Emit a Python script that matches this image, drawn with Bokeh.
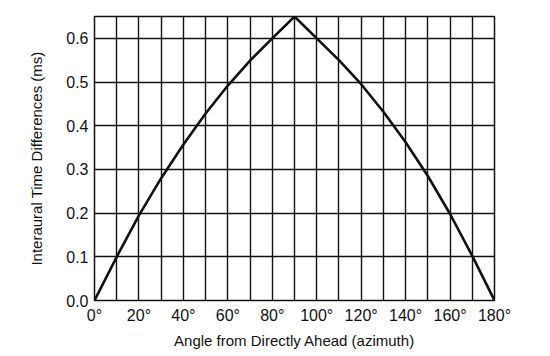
from bokeh.plotting import figure
from bokeh.models import FixedTicker, Range1d
from bokeh.embed import file_html
from bokeh.resources import INLINE

# Data
angles = [0, 10, 20, 30, 40, 50, 60, 70, 80, 90, 100, 110, 120, 130, 140, 150, 160, 170, 180]
itd_ms = [0.0, 0.10, 0.195, 0.28, 0.357, 0.428, 0.492, 0.549, 0.60, 0.65,
          0.60, 0.55, 0.495, 0.432, 0.362, 0.285, 0.198, 0.102, 0.0]

x_ticks = [0, 20, 40, 60, 80, 100, 120, 140, 160, 180]
x_tick_labels = ["0°", "20°", "40°", "60°", "80°", "100°", "120°", "140°", "160°", "180°"]
y_ticks = [0.0, 0.1, 0.2, 0.3, 0.4, 0.5, 0.6]
y_tick_labels = ["0.0", "0.1", "0.2", "0.3", "0.4", "0.5", "0.6"]
x_grid = list(range(0, 181, 10))

FONT = "Liberation Sans"

p = figure(width=542, height=352, output_backend="svg", toolbar_location=None,
           x_range=Range1d(0, 180), y_range=Range1d(0, 0.65),
           min_border_left=94, min_border_right=48, min_border_top=16, min_border_bottom=52)

p.outline_line_color = "#111111"
p.outline_line_width = 1.5
p.background_fill_color = "white"

p.xaxis.ticker = FixedTicker(ticks=x_ticks)
p.xaxis.major_label_overrides = {t: l for t, l in zip(x_ticks, x_tick_labels)}
p.yaxis.ticker = FixedTicker(ticks=y_ticks)
p.yaxis.major_label_overrides = {t: l for t, l in zip(y_ticks, y_tick_labels)}

p.xgrid.ticker = FixedTicker(ticks=x_grid)
p.ygrid.ticker = FixedTicker(ticks=y_ticks)
for g in (p.xgrid, p.ygrid):
    g.grid_line_color = "#111111"
    g.grid_line_width = 1.4
    g.grid_line_alpha = 1.0

for ax in (p.xaxis, p.yaxis):
    ax.axis_line_color = None
    ax.major_tick_line_color = None
    ax.minor_tick_line_color = None
    ax.major_tick_out = 0
    ax.major_tick_in = 0
    ax.minor_tick_out = 0
    ax.major_label_text_font = FONT
    ax.major_label_text_font_size = "16px"
    ax.major_label_text_color = "#111111"
    ax.axis_label_text_font = FONT
    ax.axis_label_text_font_size = "15px"
    ax.axis_label_text_font_style = "normal"
    ax.axis_label_text_color = "#111111"

p.xaxis.axis_label = "Angle from Directly Ahead (azimuth)"
p.yaxis.axis_label = "Interaural Time Differences (ms)"
p.xaxis.major_label_standoff = 6
p.yaxis.major_label_standoff = 6
p.xaxis.axis_label_standoff = 5
p.yaxis.axis_label_standoff = 18

p.line(angles, itd_ms, line_color="#111111", line_width=2.6, line_join="round")

open("out.html", "w").write(file_html(p, INLINE))
